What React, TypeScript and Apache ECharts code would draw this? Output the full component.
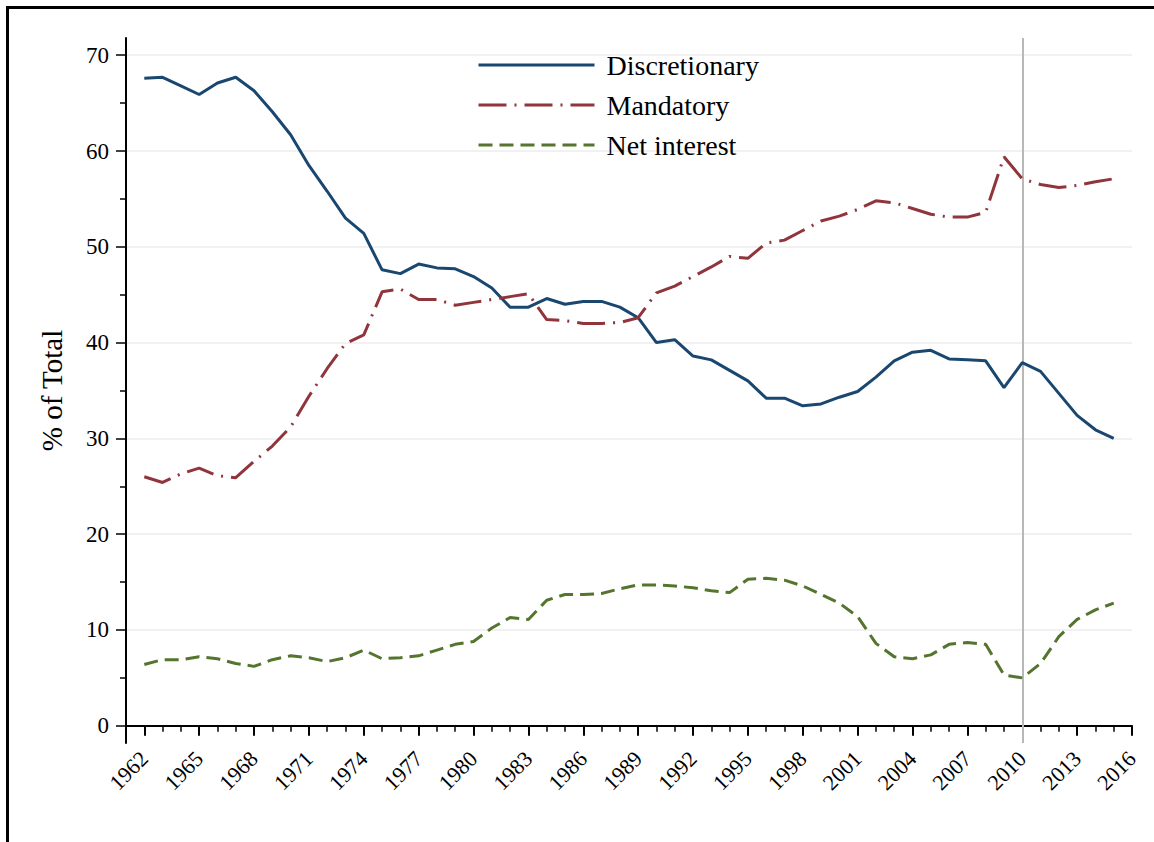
import React, { useEffect, useRef } from "react";
import * as echarts from "echarts";

const years = [
  1962, 1963, 1964, 1965, 1966, 1967, 1968, 1969, 1970, 1971,
  1972, 1973, 1974, 1975, 1976, 1977, 1978, 1979, 1980, 1981,
  1982, 1983, 1984, 1985, 1986, 1987, 1988, 1989, 1990, 1991,
  1992, 1993, 1994, 1995, 1996, 1997, 1998, 1999, 2000, 2001,
  2002, 2003, 2004, 2005, 2006, 2007, 2008, 2009, 2010, 2011,
  2012, 2013, 2014, 2015,
];

const discretionary = [
  67.6, 67.7, 66.8, 65.9, 67.1, 67.7, 66.3, 64.1, 61.7, 58.5,
  55.8, 53.0, 51.4, 47.6, 47.2, 48.2, 47.8, 47.7, 46.9, 45.7,
  43.7, 43.7, 44.6, 44.0, 44.3, 44.3, 43.7, 42.6, 40.0, 40.3,
  38.6, 38.2, 37.1, 36.0, 34.2, 34.2, 33.4, 33.6, 34.3, 34.9,
  36.4, 38.1, 39.0, 39.2, 38.3, 38.2, 38.1, 35.3, 37.9, 37.0,
  34.7, 32.4, 30.9, 30.0,
];

const mandatory = [
  26.0, 25.4, 26.3, 26.9, 26.1, 25.9, 27.6, 29.2, 31.2, 34.4,
  37.3, 39.9, 40.8, 45.3, 45.6, 44.5, 44.5, 43.9, 44.2, 44.5,
  44.8, 45.1, 42.4, 42.3, 42.0, 42.0, 42.1, 42.6, 45.2, 45.9,
  46.9, 47.9, 49.0, 48.8, 50.4, 50.7, 51.7, 52.7, 53.2, 53.9,
  54.8, 54.6, 54.0, 53.4, 53.1, 53.1, 53.6, 59.4, 57.1, 56.5,
  56.2, 56.4, 56.8, 57.1,
];

const netInterest = [
  6.4, 6.9, 6.9, 7.2, 7.0, 6.5, 6.2, 6.9, 7.3, 7.1,
  6.7, 7.1, 7.9, 7.0, 7.1, 7.3, 7.9, 8.5, 8.8, 10.2,
  11.3, 11.1, 13.1, 13.7, 13.7, 13.8, 14.3, 14.7, 14.7, 14.6,
  14.4, 14.1, 13.9, 15.3, 15.4, 15.2, 14.6, 13.7, 12.8, 11.4,
  8.6, 7.2, 7.0, 7.4, 8.5, 8.7, 8.5, 5.3, 5.0, 6.5,
  9.3, 11.1, 12.1, 12.8,
];

const xTickLabels = [
  1962, 1965, 1968, 1971, 1974, 1977, 1980, 1983, 1986, 1989,
  1992, 1995, 1998, 2001, 2004, 2007, 2010, 2013, 2016,
];
const yTickLabels = [0, 10, 20, 30, 40, 50, 60, 70];
const yMinorTicks = [5, 15, 25, 35, 45, 55, 65];
const referenceYear = 2010;

const X_MIN = 1961;
const X_MAX = 2016;
const Y_MIN = -1.8;
const Y_MAX = 71.8;

const FONT = "'Liberation Serif', 'Times New Roman', serif";

const xMinorTicks: number[] = [];
for (let y = X_MIN + 1; y <= X_MAX; y++) {
  if (!xTickLabels.includes(y)) xMinorTicks.push(y);
}

const pairs = (vals: number[]) => years.map((y, i) => [y, vals[i]]);

export default function App() {
  const ref = useRef<HTMLDivElement>(null);

  useEffect(() => {
    if (!ref.current) return;
    const chart = echarts.init(ref.current, null, { renderer: "svg" });
    const axisLine = { show: true, lineStyle: { color: "#000", width: 2 } };
    chart.setOption({
      animation: false,
      backgroundColor: "#fff",
      grid: { left: 126, right: 22, top: 38, bottom: 99 },
      legend: {
        orient: "vertical",
        left: 472,
        top: 46,
        itemWidth: 116,
        itemHeight: 14,
        itemGap: 12,
        data: ["Discretionary", "Mandatory", "Net interest"],
        itemStyle: { opacity: 0 },
        lineStyle: { width: 3 },
        textStyle: {
          fontFamily: FONT,
          fontSize: 28,
          color: "#000",
          padding: [0, 0, 0, 7],
        },
      },
      xAxis: [
        {
          type: "value",
          min: X_MIN,
          max: X_MAX,
          position: "bottom",
          axisLine,
          splitLine: { show: false },
          axisTick: {
            show: true,
            length: 10,
            customValues: xTickLabels,
            lineStyle: { color: "#000", width: 2 },
          },
          axisLabel: {
            customValues: xTickLabels,
            rotate: 45,
            margin: 12,
            fontFamily: FONT,
            fontSize: 22,
            color: "#000",
            formatter: (v: number) => String(v),
          },
        },
        {
          type: "value",
          min: X_MIN,
          max: X_MAX,
          position: "bottom",
          axisLine: { show: false },
          splitLine: { show: false },
          axisTick: {
            show: true,
            length: 6,
            customValues: xMinorTicks,
            lineStyle: { color: "#000", width: 1.5 },
          },
          axisLabel: { show: false },
        },
      ],
      yAxis: [
        {
          type: "value",
          min: Y_MIN,
          max: Y_MAX,
          position: "left",
          name: "% of Total",
          nameLocation: "middle",
          nameGap: 60,
          nameTextStyle: { fontFamily: FONT, fontSize: 29, color: "#000" },
          axisLine,
          splitLine: { show: true, lineStyle: { color: "#ececec", width: 1.5 } },
          axisTick: {
            show: true,
            length: 10,
            customValues: yTickLabels,
            lineStyle: { color: "#000", width: 1.5 },
          },
          axisLabel: {
            customValues: yTickLabels,
            margin: 17,
            fontFamily: FONT,
            fontSize: 23,
            color: "#000",
            formatter: (v: number) => String(v),
          },
        },
        {
          type: "value",
          min: Y_MIN,
          max: Y_MAX,
          position: "left",
          axisLine: { show: false },
          splitLine: { show: false },
          axisTick: {
            show: true,
            length: 6,
            customValues: yMinorTicks,
            lineStyle: { color: "#000", width: 1.5 },
          },
          axisLabel: { show: false },
        },
      ],
      series: [
        {
          name: "Discretionary",
          type: "line",
          data: pairs(discretionary),
          symbol: "none",
          showSymbol: false,
          z: 3,
          color: "#1a476f",
          lineStyle: { color: "#1a476f", width: 3 },
          markLine: {
            silent: true,
            symbol: "none",
            label: { show: false },
            lineStyle: { color: "#b8b8b8", width: 2, type: "solid" },
            data: [{ xAxis: referenceYear }],
            z: 1,
          },
        },
        {
          name: "Mandatory",
          type: "line",
          data: pairs(mandatory),
          symbol: "none",
          showSymbol: false,
          z: 3,
          color: "#90353b",
          lineStyle: { color: "#90353b", width: 3, type: [28, 8, 2, 8] },
        },
        {
          name: "Net interest",
          type: "line",
          data: pairs(netInterest),
          symbol: "none",
          showSymbol: false,
          z: 3,
          color: "#55752f",
          lineStyle: { color: "#55752f", width: 3, type: [14, 7] },
        },
      ],
      graphic: [
        {
          type: "line",
          shape: { x1: 6, y1: 7.5, x2: 1154, y2: 7.5 },
          style: { stroke: "#000", lineWidth: 3 },
        },
        {
          type: "line",
          shape: { x1: 7.5, y1: 6, x2: 7.5, y2: 842 },
          style: { stroke: "#000", lineWidth: 3 },
        },
      ],
    });
    return () => chart.dispose();
  }, []);

  return (
    <div
      ref={ref}
      style={{ position: "absolute", left: 0, top: 0, width: 1154, height: 842 }}
    />
  );
}
